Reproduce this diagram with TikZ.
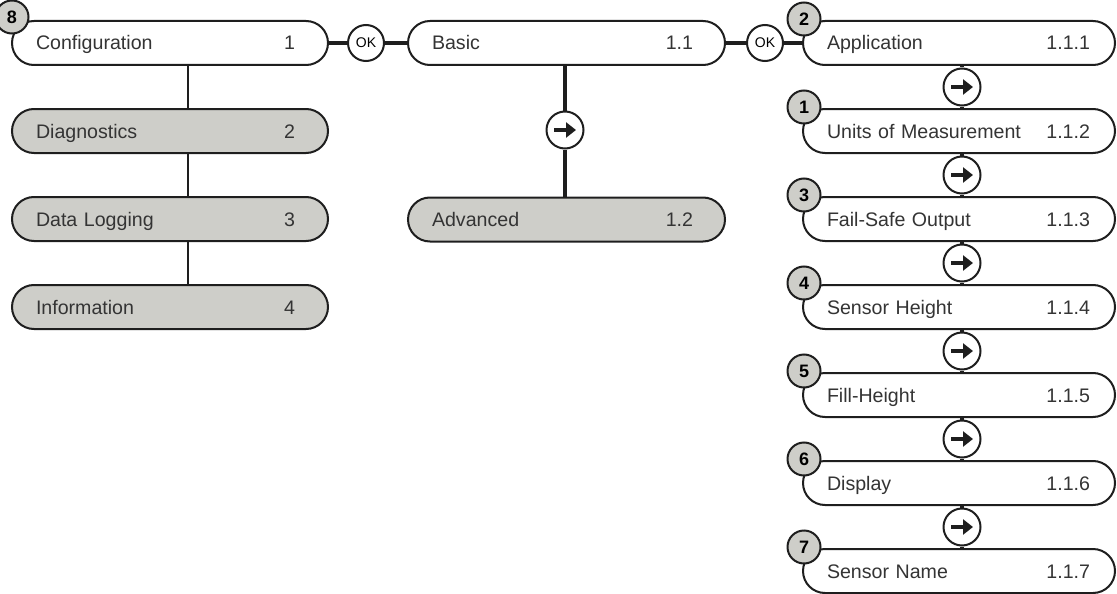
\documentclass[tikz,border=0pt]{standalone}
\usepackage{fontspec}
\setmainfont{Liberation Sans}
\usetikzlibrary{arrows.meta,calc}

\definecolor{boxgray}{RGB}{206,206,201}
\definecolor{ink}{RGB}{30,30,30}
\definecolor{txt}{RGB}{52,52,52}

% label left, menu number right
\newcommand{\entry}[3]{#1\hskip 0pt plus 1filll #2\kern#3pt}

\tikzset{
  menubox/.style={draw=ink, line width=2pt, rounded corners=22pt, minimum height=44pt,
    inner xsep=24pt, inner ysep=0pt, text height=14pt, text depth=0pt, align=left,
    text=txt, font=\fontsize{19.6}{22}\selectfont},
  badge/.style={circle, draw=ink, line width=2pt, fill=boxgray, minimum size=33pt,
    inner sep=0pt, font=\bfseries\fontsize{18}{20}\selectfont},
  okcircle/.style={circle, draw=ink, line width=2pt, fill=white, minimum size=36pt,
    inner sep=0pt, font=\fontsize{14}{15}\selectfont},
  arrowcircle/.style={circle, draw=ink, line width=2pt, fill=white, minimum size=37pt, inner sep=0pt},
  thickline/.style={draw=ink, line width=4pt},
  thinline/.style={draw=ink, line width=2pt},
  fwd/.style={draw=ink, line width=4.5pt, -{Triangle[length=10pt,width=15pt]}}
}

\begin{document}
\begin{tikzpicture}[x=1pt,y=-1pt]
  \useasboundingbox (0,0) rectangle (1117,594);

  % main menu
  \node[menubox, fill=white, text width=268pt] (conf) at (170,43) {\entry{Configuration}{1}{9}};
  \node[menubox, fill=boxgray, text width=268pt] (diag) at (170,131) {\entry{Diagnostics}{2}{9}};
  \node[menubox, fill=boxgray, text width=268pt] (logg) at (170,219) {\entry{Data Logging}{3}{9}};
  \node[menubox, fill=boxgray, text width=268pt] (info) at (170,307) {\entry{Information}{4}{9}};
  \foreach \a/\b in {conf/diag, diag/logg, logg/info}
    \draw[thinline] ([xshift=18pt]\a.south) -- ([xshift=18pt]\b.north);

  % sub menu
  \node[menubox, fill=white, text width=269pt] (basic) at (566.5,43) {\entry{Basic}{1.1}{8}};
  \node[menubox, fill=boxgray, text width=269pt] (adv) at (566.5,219.5) {\entry{Advanced}{1.2}{8}};
  \node[arrowcircle] (go) at (565,130) {};
  \draw[thickline] (basic.south -| go) -- (go) -- (adv.north -| go);
  \draw[fwd] ([xshift=-11pt]go.center) -- ([xshift=11pt]go.center);

  % basic settings
  \foreach \i/\lbl/\idx in {1/Application/1.1.1, 2/Units of Measurement/1.1.2,
      3/Fail-Safe Output/1.1.3, 4/Sensor Height/1.1.4, 5/Fill-Height/1.1.5,
      6/Display/1.1.6, 7/Sensor Name/1.1.7}
    \node[menubox, fill=white, text width=264pt] (r\i) at (959,{43+88*(\i-1)}) {\entry{\lbl}{\idx}{1}};
  \foreach \i in {1,...,6} {
    \pgfmathtruncatemacro\j{\i+1}
    \node[arrowcircle] (s\i) at ($(r\i.south)!.5!(r\j.north)+(3,0)$) {};
    \draw[thickline] (r\i.south -| s\i) -- (s\i) -- (r\j.north -| s\i);
    \draw[fwd] ([xshift=-11pt]s\i.center) -- ([xshift=11pt]s\i.center);
  }

  % OK links
  \node[okcircle] (ok1) at (366,43) {OK};
  \node[okcircle] (ok2) at (765,43) {OK};
  \draw[thickline] (conf.east) -- (ok1) -- (basic.west);
  \draw[thickline] (basic.east) -- (ok2) -- (r1.west);

  % step numbers
  \node[badge] (b8) at ([xshift=1pt,yshift=3pt]conf.north west) {8};
  \foreach \i/\n in {1/2, 2/1, 3/3, 4/4, 5/5, 6/6, 7/7}
    \node[badge] (b\i) at ([xshift=2pt,yshift=1pt]r\i.north west) {\n};
\end{tikzpicture}
\end{document}
